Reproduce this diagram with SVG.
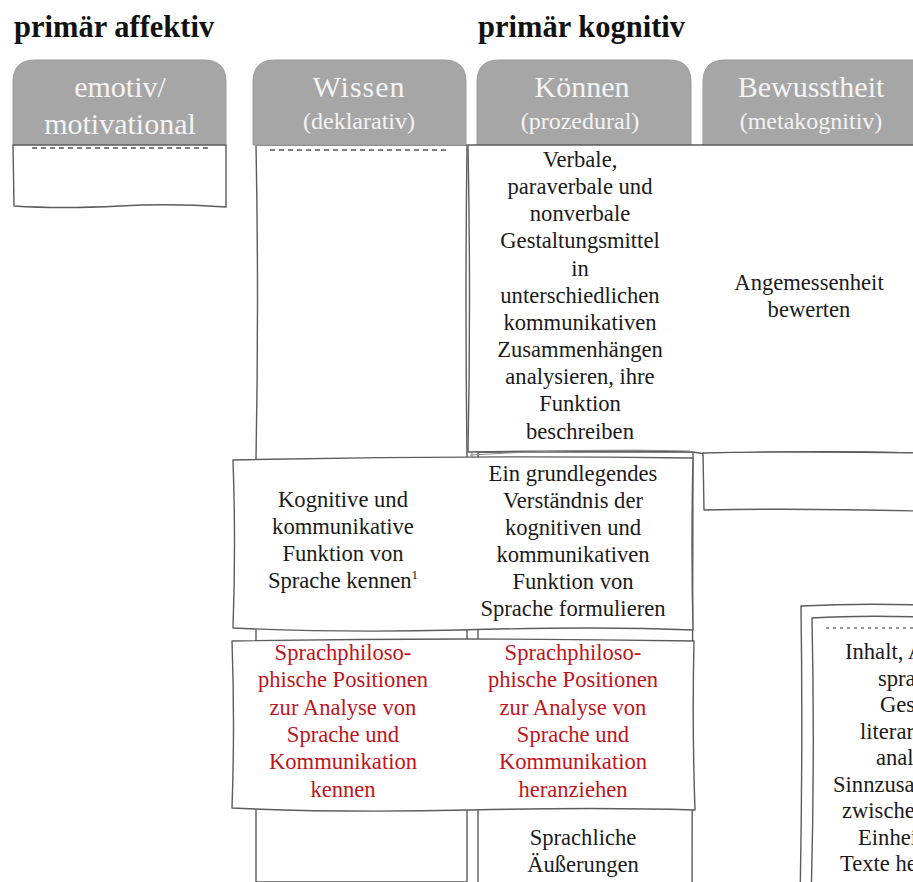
<svg xmlns="http://www.w3.org/2000/svg" width="913" height="882" viewBox="0 0 913 882" font-family="Liberation Serif, Times New Roman, serif">
<style>
  .ln{fill:#fff;stroke:#5c5c5c;stroke-width:1.4;stroke-linejoin:round}
  .ln2{fill:none;stroke:#8a8a8a;stroke-width:1}
  .hd{fill:#a6a6a6;stroke:#9a9a9a;stroke-width:1}
  .ht{fill:#f3f3f3;text-anchor:middle}
  .big{font-size:30px}
  .par{font-size:24px}
  .ttl{font-weight:bold;font-size:30.5px;fill:#111}
  .tx{font-size:22.6px;fill:#1a1a1a;text-anchor:middle}
  .red{fill:#c0141c}
  .txs{font-size:22.6px;fill:#1a1a1a}
  .dash{fill:none;stroke:#555;stroke-width:1.6;stroke-dasharray:5 4}
  .dot{fill:none;stroke:#777;stroke-width:1.6;stroke-dasharray:3 4}
</style>

<g id="titles" font-family="Liberation Serif, serif">
  <text class="ttl" x="14" y="37">primär affektiv</text>
  <text class="ttl" x="478" y="37">primär kognitiv</text>
</g>

<g id="col-wissen">
  <path class="ln" d="M256 145 Q259 300 256 460 L256 882 L467 882 L467 460 Q465 300 467 145 Z"/>
  <path class="ln2" d="M471 150 Q469 300 472 458"/>
</g>
<g id="col-koennen">
  <path class="ln" d="M478 452 L693 452 L692 900 L478 900 Z"/>
</g>

<g id="node-emotiv" font-family="Liberation Serif, serif">
  <path class="hd" d="M13 145 L13 82 Q13 60 35 60 L204 60 Q226 60 226 82 L226 145 Z"/>
  <text class="ht big" x="120" y="97">emotiv/</text>
  <text class="ht big" x="120" y="134">motivational</text>
  <path class="ln" d="M13 145 L226 145 L226 207 Q170 203 120 206 Q60 209 14 206 Z"/>
  <line class="dash" x1="32" y1="148" x2="212" y2="148"/>
</g>

<g id="node-wissen" font-family="Liberation Serif, serif">
  <path class="hd" d="M253 145 L253 82 Q253 60 275 60 L444 60 Q466 60 466 82 L466 145 Z"/>
  <text class="ht big" x="359" y="97" letter-spacing="1">Wissen</text>
  <text class="ht par" x="359" y="129">(deklarativ)</text>
  <line class="dash" x1="270" y1="150" x2="450" y2="150"/>
</g>

<g id="node-koennen" font-family="Liberation Serif, serif">
  <path class="hd" d="M477 145 L477 82 Q477 60 499 60 L669 60 Q691 60 691 82 L691 145 Z"/>
  <text class="ht big" x="582" y="97">Können</text>
  <text class="ht par" x="580" y="129">(prozedural)</text>
</g>

<g id="node-bewusstheit" font-family="Liberation Serif, serif">
  <path class="hd" d="M703 145 L703 82 Q703 60 725 60 L925 60 L925 145 Z"/>
  <text class="ht big" x="811" y="97">Bewusstheit</text>
  <text class="ht par" x="811" y="129">(metakognitiv)</text>
</g>

<g id="node-verbale" font-family="Liberation Serif, serif">
  <path class="ln" d="M468 145 L920 145 L920 453 Q800 450 705 454 L693 452 Q600 450 468 452 Q471 300 468 145 Z"/>
  <path class="ln2" d="M470 455 Q580 448 690 451"/>
  <text class="tx" x="580" y="167">Verbale,</text>
  <text class="tx" x="580" y="194">paraverbale und</text>
  <text class="tx" x="580" y="221">nonverbale</text>
  <text class="tx" x="580" y="248">Gestaltungsmittel</text>
  <text class="tx" x="580" y="276">in</text>
  <text class="tx" x="580" y="303">unterschiedlichen</text>
  <text class="tx" x="580" y="330">kommunikativen</text>
  <text class="tx" x="580" y="357">Zusammenhängen</text>
  <text class="tx" x="580" y="384">analysieren, ihre</text>
  <text class="tx" x="580" y="411">Funktion</text>
  <text class="tx" x="580" y="439">beschreiben</text>
  <text class="tx" x="809" y="290">Angemessenheit</text>
  <text class="tx" x="809" y="317">bewerten</text>
</g>

<g id="node-bewusstheit-2">
  <path class="ln" d="M703 453 Q800 451 920 453 L920 511 Q800 508 704 510 Z"/>
</g>

<g id="node-funktion" font-family="Liberation Serif, serif">
  <path class="ln" d="M233 460 Q460 455 693 458 Q691 545 693 630 Q600 626 460 630 Q340 633 233 628 Q236 545 233 460 Z"/>
  <text class="tx" x="343" y="507">Kognitive und</text>
  <text class="tx" x="343" y="534">kommunikative</text>
  <text class="tx" x="343" y="561">Funktion von</text>
  <text class="tx" x="343" y="588">Sprache kennen<tspan font-size="13" dy="-9">1</tspan></text>
  <text class="tx" x="573" y="481">Ein grundlegendes</text>
  <text class="tx" x="573" y="508">Verständnis der</text>
  <text class="tx" x="573" y="535">kognitiven und</text>
  <text class="tx" x="573" y="562">kommunikativen</text>
  <text class="tx" x="573" y="589">Funktion von</text>
  <text class="tx" x="573" y="616">Sprache formulieren</text>
</g>

<g id="node-sprachphilosophie" font-family="Liberation Serif, serif">
  <path class="ln" d="M232 641 Q460 637 694 641 Q692 725 695 810 Q600 807 470 810 Q340 813 232 808 Q235 725 232 641 Z"/>
  <text class="tx red" x="343" y="660">Sprachphiloso-</text>
  <text class="tx red" x="343" y="687">phische Positionen</text>
  <text class="tx red" x="343" y="715">zur Analyse von</text>
  <text class="tx red" x="343" y="742">Sprache und</text>
  <text class="tx red" x="343" y="769">Kommunikation</text>
  <text class="tx red" x="343" y="797">kennen</text>
  <text class="tx red" x="573" y="660">Sprachphiloso-</text>
  <text class="tx red" x="573" y="687">phische Positionen</text>
  <text class="tx red" x="573" y="715">zur Analyse von</text>
  <text class="tx red" x="573" y="742">Sprache und</text>
  <text class="tx red" x="573" y="769">Kommunikation</text>
  <text class="tx red" x="573" y="797">heranziehen</text>
</g>

<g id="node-aeusserungen" font-family="Liberation Serif, serif">
  <text class="tx" x="583" y="845">Sprachliche</text>
  <text class="tx" x="583" y="872">Äußerungen</text>
</g>

<g id="node-inhalt" font-family="Liberation Serif, serif">
  <path class="ln" d="M801 606 Q860 603 920 605 L920 900 L800 900 Q803 750 801 606 Z"/>
  <path class="ln" d="M812 618 Q860 615 920 617 L920 900 L811 900 Q815 760 812 618 Z"/>
  <line class="dot" x1="826" y1="628" x2="913" y2="628"/>
  <text class="txs" x="845" y="659">Inhalt, A</text>
  <text class="txs" x="878" y="686">spra</text>
  <text class="txs" x="880" y="712">Ges</text>
  <text class="txs" x="860" y="739">literaris</text>
  <text class="txs" x="876" y="765">analy</text>
  <text class="txs" x="833" y="792">Sinnzusa</text>
  <text class="txs" x="842" y="818">zwische</text>
  <text class="txs" x="858" y="845">Einhei</text>
  <text class="txs" x="840" y="871">Texte he</text>
</g>

<g id="connectors"></g>
</svg>
